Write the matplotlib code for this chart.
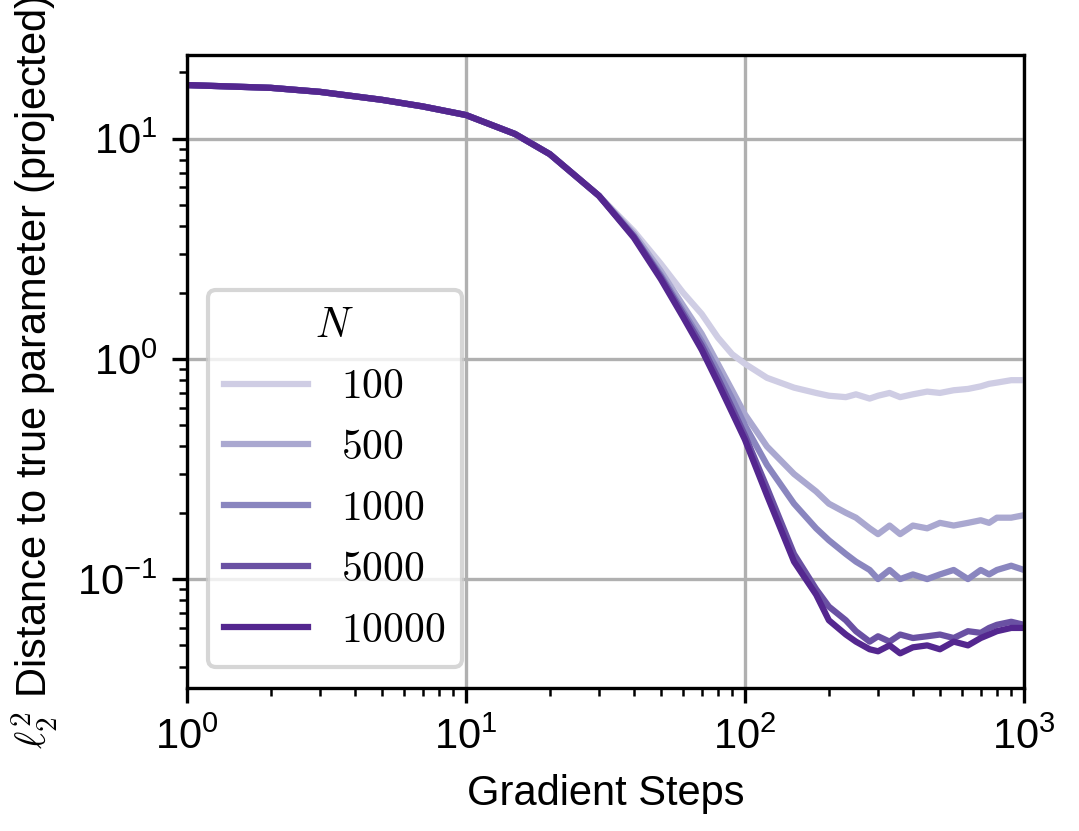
import numpy as np
import matplotlib.pyplot as plt

plt.rcParams['mathtext.fontset'] = 'cm'
plt.rcParams['font.family'] = 'Liberation Sans'

# gradient steps
steps = [1, 2, 3, 5, 7, 10, 15, 20, 30, 40, 50, 60, 70, 80, 90, 100, 120, 150, 180, 200,
         230, 250, 280, 300, 330, 360, 400, 450, 500, 560, 630, 700, 750, 800, 900, 1000]
head = [17.5, 17.0, 16.3, 15.0, 14.0, 12.8, 10.5, 8.5, 5.5]

d100 = head + [3.8, 2.7, 2.0, 1.6, 1.25, 1.05, 0.95, 0.82, 0.74, 0.70, 0.68,
               0.67, 0.69, 0.66, 0.68, 0.70, 0.67, 0.69, 0.71, 0.70, 0.72, 0.73, 0.75, 0.77, 0.78, 0.80, 0.80]
d500 = head + [3.7, 2.5, 1.75, 1.3, 0.95, 0.72, 0.56, 0.40, 0.30, 0.25, 0.22,
               0.20, 0.19, 0.17, 0.16, 0.175, 0.16, 0.175, 0.17, 0.18, 0.175, 0.18, 0.185, 0.18, 0.19, 0.19, 0.195]
d1000 = head + [3.6, 2.4, 1.65, 1.2, 0.88, 0.66, 0.50, 0.33, 0.22, 0.17, 0.15,
                0.13, 0.12, 0.11, 0.10, 0.11, 0.10, 0.105, 0.10, 0.105, 0.11, 0.10, 0.11, 0.105, 0.11, 0.115, 0.11]
d5000 = head + [3.6, 2.35, 1.6, 1.15, 0.82, 0.60, 0.45, 0.26, 0.13, 0.09, 0.075,
                0.065, 0.058, 0.052, 0.055, 0.052, 0.056, 0.054, 0.055, 0.056, 0.054, 0.058, 0.057, 0.060, 0.062, 0.064, 0.062]
d10000 = head + [3.55, 2.3, 1.55, 1.1, 0.78, 0.57, 0.43, 0.24, 0.12, 0.085, 0.065,
                 0.056, 0.052, 0.048, 0.047, 0.050, 0.046, 0.049, 0.050, 0.048, 0.052, 0.050, 0.054, 0.056, 0.058, 0.060, 0.060]

labels = ['100', '500', '1000', '5000', '10000']
colors = ['#cfcde4', '#aaa8d0', '#8a86bf', '#6a51a3', '#54278f']

fig = plt.figure(figsize=(1079 / 300, 831 / 300), dpi=300)
ax = fig.add_axes([0.173, 0.172, 0.776, 0.762])
for d, lab, c in zip([d100, d500, d1000, d5000, d10000], labels, colors):
    ax.plot(steps, d, color=c, lw=1.5, label='$' + lab + '$')
ax.set_xscale('log')
ax.set_yscale('log')
ax.set_xlim(1, 1000)
ax.set_ylim(0.032, 24)
ax.grid(True, which='major', color='#b0b0b0', lw=0.8)
ax.tick_params(labelsize=10)
ax.set_xlabel('Gradient Steps', fontsize=10)
ax.set_ylabel(r'$\ell_2^2$ Distance to true parameter (projected)', fontsize=10)
leg = ax.legend(title='$N$', loc='lower left', fontsize=10, title_fontsize=10)
fig.savefig('out.png', dpi=300)
